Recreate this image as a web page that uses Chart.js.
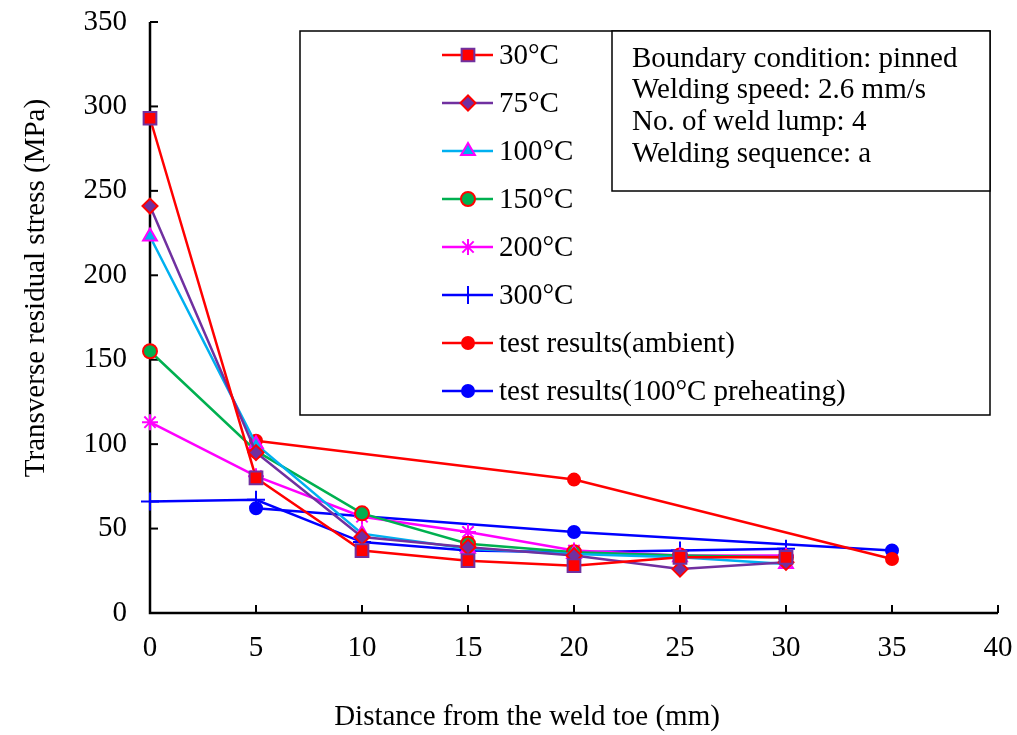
<!DOCTYPE html>
<html>
<head>
<meta charset="utf-8">
<script src="https://cdn.jsdelivr.net/npm/chart.js@4"></script>
<style>
  html, body { margin: 0; padding: 0; background: #fff; }
  #wrap { width: 1017px; height: 735px; }
</style>
</head>
<body>
<div id="wrap"><canvas id="chart" width="1017" height="735"></canvas></div>
<script>
// values
const distances = [0, 5, 10, 15, 20, 25, 30];
const stress30 = [293, 80, 37, 31, 28, 33, 33];
const stress75 = [241, 95, 45, 39, 34, 26, 30];
const stress100 = [223, 100, 47, 38, 35, 33, 29];
const stress150 = [155, 96, 59, 41, 36, 34, 33];
const stress200 = [113, 81, 57, 48, 37, 34, 34];
const stress300 = [66, 67, 42, 37, 36, 37, 38];
const testDistances = [5, 20, 35];
const testAmbient = [102, 79, 32];
const testPreheat = [62, 48, 37];

const seriesNames = ['30°C', '75°C', '100°C', '150°C', '200°C', '300°C',
  'test results(ambient)', 'test results(100°C preheating)'];
const noteLines = ['Boundary condition: pinned', 'Welding speed: 2.6 mm/s',
  'No. of weld lump: 4', 'Welding sequence: a'];
const xTitle = 'Distance from the weld toe (mm)';
const yTitle = 'Transverse residual stress (MPa)';

const FONT = '"Liberation Serif", "Times New Roman", serif';
const FONT_SIZE = 29;

function pts(xs, ys) {
  return ys.map(function(y, i) { return { x: xs[i], y: y }; });
}

function series(label, xs, ys, line, style, fill, border, radius) {
  return {
    label: label,
    data: pts(xs, ys),
    borderColor: line,
    borderWidth: 2.5,
    pointStyle: style,
    pointBackgroundColor: fill,
    pointBorderColor: border,
    pointBorderWidth: 2,
    pointRadius: radius,
    showLine: true,
    tension: 0,
    clip: false
  };
}

const datasets = [
  series(seriesNames[0], distances, stress30, '#FF0000', 'rect', '#FF0000', '#7030A0', 9),
  series(seriesNames[1], distances, stress75, '#7030A0', 'rectRot', '#7030A0', '#FF0000', 7.5),
  series(seriesNames[2], distances, stress100, '#00B0F0', 'triangle', '#00B0F0', '#FF00FF', 8),
  series(seriesNames[3], distances, stress150, '#00B050', 'circle', '#00B050', '#FF0000', 7),
  series(seriesNames[4], distances, stress200, '#FF00FF', 'star', '#FF00FF', '#FF00FF', 8),
  series(seriesNames[5], distances, stress300, '#0000FF', 'cross', '#0000FF', '#0000FF', 9),
  series(seriesNames[6], testDistances, testAmbient, '#FF0000', 'circle', '#FF0000', '#FF0000', 6),
  series(seriesNames[7], testDistances, testPreheat, '#0000FF', 'circle', '#0000FF', '#0000FF', 6)
];

// axes, inside ticks, titles, legend box and note box
const decorations = {
  id: 'decorations',
  beforeDatasetsDraw(chart) {
    const ctx = chart.ctx;
    const xs = chart.scales.x, ys = chart.scales.y;
    const area = chart.chartArea;
    ctx.save();
    ctx.strokeStyle = '#000';
    ctx.lineWidth = 2.5;
    ctx.beginPath();
    ctx.moveTo(area.left, area.top);
    ctx.lineTo(area.left, area.bottom);
    ctx.lineTo(area.right, area.bottom);
    ctx.stroke();
    ctx.lineWidth = 2;
    xs.ticks.forEach(function(t) {
      const px = xs.getPixelForValue(t.value);
      ctx.beginPath();
      ctx.moveTo(px, area.bottom);
      ctx.lineTo(px, area.bottom - 8);
      ctx.stroke();
    });
    ys.ticks.forEach(function(t) {
      const py = ys.getPixelForValue(t.value);
      ctx.beginPath();
      ctx.moveTo(area.left, py);
      ctx.lineTo(area.left + 8, py);
      ctx.stroke();
    });

    ctx.fillStyle = '#000';
    ctx.font = FONT_SIZE + 'px ' + FONT;
    ctx.textAlign = 'center';
    ctx.textBaseline = 'middle';
    ctx.fillText(xTitle, 527, 717);
    ctx.save();
    ctx.translate(36, 288);
    ctx.rotate(-Math.PI / 2);
    ctx.fillText(yTitle, 0, 0);
    ctx.restore();

    // legend box
    ctx.fillStyle = '#fff';
    ctx.fillRect(300, 31, 690, 384);
    ctx.strokeStyle = '#000';
    ctx.lineWidth = 1.5;
    ctx.strokeRect(300, 31, 690, 384);

    chart.data.datasets.forEach(function(ds, i) {
      const y = 55 + i * 48;
      ctx.strokeStyle = ds.borderColor;
      ctx.lineWidth = 2.5;
      ctx.beginPath();
      ctx.moveTo(442, y);
      ctx.lineTo(493, y);
      ctx.stroke();
      ctx.fillStyle = ds.pointBackgroundColor;
      ctx.strokeStyle = ds.pointBorderColor;
      ctx.lineWidth = ds.pointBorderWidth;
      Chart.helpers.drawPoint(ctx, {
        pointStyle: ds.pointStyle,
        radius: ds.pointRadius,
        rotation: 0,
        borderWidth: ds.pointBorderWidth
      }, 468, y);
      ctx.fillStyle = '#000';
      ctx.textAlign = 'left';
      ctx.font = FONT_SIZE + 'px ' + FONT;
      ctx.fillText(ds.label, 499, y + 1);
    });

    // note box
    ctx.fillStyle = '#fff';
    ctx.fillRect(612, 31, 378, 160);
    ctx.strokeStyle = '#000';
    ctx.lineWidth = 1.5;
    ctx.strokeRect(612, 31, 378, 160);
    ctx.fillStyle = '#000';
    ctx.textAlign = 'left';
    noteLines.forEach(function(line, i) {
      ctx.fillText(line, 632, 59 + i * 31.7);
    });
    ctx.restore();
  }
};

new Chart(document.getElementById('chart'), {
  type: 'scatter',
  data: { datasets: datasets },
  plugins: [decorations],
  options: {
    responsive: false,
    animation: false,
    layout: { padding: { top: 22, right: 19, left: 0, bottom: 0 } },
    plugins: {
      legend: { display: false },
      tooltip: { enabled: false }
    },
    scales: {
      x: {
        type: 'linear',
        min: 0,
        max: 40,
        ticks: {
          stepSize: 5,
          color: '#000',
          padding: 18,
          font: { family: FONT, size: FONT_SIZE }
        },
        grid: { display: false, drawTicks: false },
        border: { display: false },
        afterFit: function(scale) {
          scale.height = 122;
          scale.paddingLeft = 0;
          scale.paddingRight = 0;
        }
      },
      y: {
        min: 0,
        max: 350,
        ticks: {
          stepSize: 50,
          color: '#000',
          padding: 23,
          font: { family: FONT, size: FONT_SIZE }
        },
        grid: { display: false, drawTicks: false },
        border: { display: false },
        afterFit: function(scale) {
          scale.width = 150;
          scale.paddingTop = 0;
          scale.paddingBottom = 0;
        }
      }
    }
  }
});
</script>
</body>
</html>
